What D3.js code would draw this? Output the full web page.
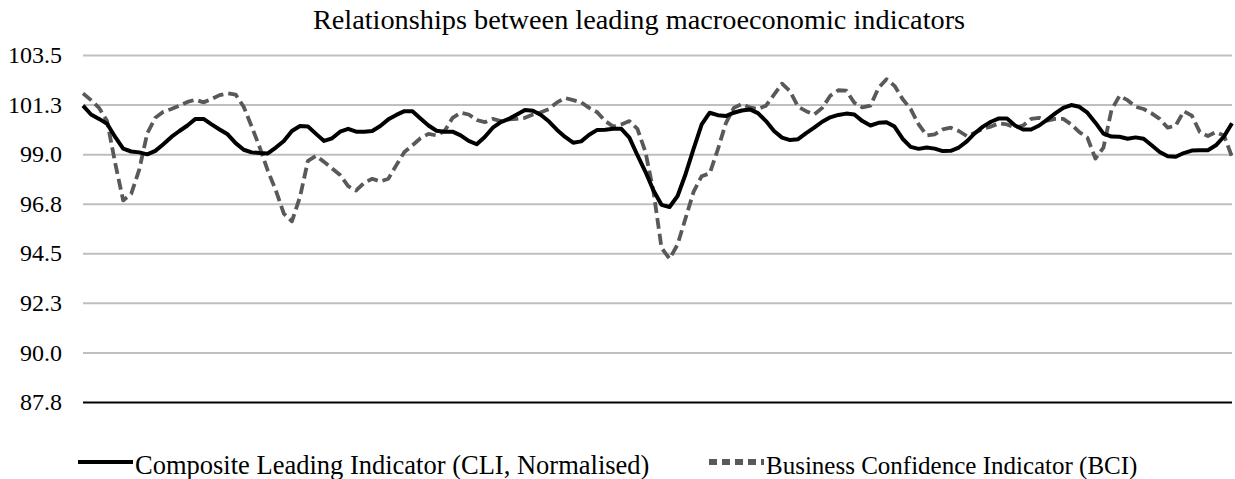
<!DOCTYPE html>
<html>
<head>
<meta charset="utf-8">
<script src="https://cdn.jsdelivr.net/npm/d3@7"></script>
<style>
  body { margin: 0; background: #fff; }
  svg { display: block; }
  svg text { font-family: "Liberation Serif", "Times New Roman", serif; }
</style>
</head>
<body>
<div id="chart"></div>
<script>
const width = 1235
const height = 479

const title = "Relationships between leading macroeconomic indicators"
const seriesNames = ["Composite Leading Indicator (CLI, Normalised)", "Business Confidence Indicator (BCI)"]
const tickValues = [87.75, 90, 92.25, 94.5, 96.75, 99, 101.25, 103.5]
const tickLabels = ["87.8", "90.0", "92.3", "94.5", "96.8", "99.0", "101.3", "103.5"]

// monthly readings, index only (no x labels on the chart)
const cli = [
  101.2, 100.8, 100.6, 100.38, 99.78, 99.25, 99.12, 99.08, 98.99, 99.15,
  99.45, 99.78, 100.05, 100.3, 100.6, 100.6, 100.35, 100.12, 99.9, 99.5,
  99.2, 99.08, 99.05, 99.03, 99.3, 99.6, 100.05, 100.28, 100.25, 99.92,
  99.6, 99.72, 100.02, 100.15, 100.02, 100.02, 100.05, 100.28, 100.58, 100.78,
  100.95, 100.95, 100.62, 100.3, 100.06, 100.02, 100.02, 99.85, 99.6, 99.45,
  99.78, 100.2, 100.45, 100.6, 100.8, 101.0, 100.97, 100.78, 100.48, 100.1,
  99.78, 99.52, 99.58, 99.88, 100.1, 100.11, 100.15, 100.15, 99.75, 98.95,
  98.2, 97.35, 96.7, 96.6, 97.1, 98.1, 99.25, 100.35, 100.88, 100.77,
  100.73, 100.88, 100.98, 101.03, 100.86, 100.5, 100.05, 99.75, 99.64, 99.68,
  99.95, 100.2, 100.47, 100.67, 100.78, 100.84, 100.8, 100.5, 100.3, 100.42,
  100.45, 100.25, 99.7, 99.33, 99.24, 99.3, 99.25, 99.14, 99.15, 99.3,
  99.58, 99.95, 100.25, 100.47, 100.62, 100.62, 100.3, 100.12, 100.12, 100.3,
  100.57, 100.85, 101.1, 101.23, 101.15, 100.88, 100.43, 99.93, 99.8, 99.79,
  99.7, 99.76, 99.7, 99.4, 99.1, 98.9, 98.88, 99.05, 99.16, 99.18,
  99.18, 99.4, 99.8, 100.4
]

const bci = [
  101.76, 101.45, 101.1, 100.5, 98.6, 96.9, 97.2, 98.3, 99.95, 100.65,
  100.92, 101.05, 101.2, 101.37, 101.47, 101.35, 101.5, 101.68, 101.76, 101.7,
  101.15, 100.25, 99.3, 98.25, 97.35, 96.3, 95.95, 97.05, 98.7, 98.92,
  98.65, 98.35, 98.05, 97.55, 97.35, 97.7, 97.88, 97.76, 97.88, 98.5,
  99.1, 99.4, 99.72, 99.92, 99.85, 100.05, 100.65, 100.88, 100.8, 100.55,
  100.45, 100.6, 100.5, 100.58, 100.6, 100.65, 100.8, 100.9, 101.05, 101.35,
  101.55, 101.45, 101.35, 101.1, 100.9, 100.5, 100.25, 100.35, 100.5, 100.15,
  99.1, 97.3, 94.75, 94.25, 94.9, 96.1, 97.3, 98.0, 98.13, 99.2,
  100.4, 101.1, 101.28, 101.12, 101.05, 101.2, 101.7, 102.2, 101.85, 101.15,
  100.95, 100.8, 101.1, 101.65, 101.9, 101.88, 101.33, 101.12, 101.2, 102.0,
  102.4, 102.1, 101.5, 101.05, 100.35, 99.85, 99.9, 100.12, 100.2, 100.05,
  99.82, 99.97, 100.15, 100.25, 100.4, 100.35, 100.2, 100.3, 100.6, 100.65,
  100.52, 100.6, 100.6, 100.35, 100.0, 99.75, 98.8, 99.3, 101.0, 101.65,
  101.45, 101.15, 101.05, 100.85, 100.6, 100.2, 100.3, 100.95, 100.75, 100.0,
  99.82, 100.0, 99.85, 98.88
]

const black = "#000000"
const dashGrey = "#595959"
const gridGrey = "#bfbfbf"

const margin = {top: 55, right: 3, bottom: 77, left: 83}

const svg = d3.select("#chart")
  .append("svg")
  .attr("width", width)
  .attr("height", height)

const x = d3.scaleLinear()
  .domain([0, cli.length - 1])
  .range([margin.left, width - margin.right])

const y = d3.scaleLinear()
  .domain([87.75, 103.5])
  .range([height - margin.bottom, margin.top])

// title
svg.append("text")
  .attr("x", 639)
  .attr("y", 29)
  .attr("text-anchor", "middle")
  .attr("font-size", 28.3)
  .attr("fill", black)
  .text(title)

// y axis: gridlines + labels, no domain line
const yAxis = d3.axisLeft(y)
  .tickValues(tickValues)
  .tickFormat((d, i) => tickLabels[i])
  .tickSize(-(width - margin.left - margin.right))
  .tickPadding(21)

const gy = svg.append("g")
  .attr("transform", `translate(${margin.left},0)`)
  .call(yAxis)
  .attr("font-family", null)

gy.select(".domain").remove()
gy.selectAll(".tick line")
  .attr("stroke", d => d === 87.75 ? black : gridGrey)
  .attr("stroke-width", 2)
gy.selectAll(".tick text")
  .attr("font-size", 24)
  .attr("fill", black)

// lines
const line = d3.line()
  .x((d, i) => x(i))
  .y(d => y(d))

svg.append("path")
  .datum(bci)
  .attr("fill", "none")
  .attr("stroke", dashGrey)
  .attr("stroke-width", 3.8)
  .attr("stroke-dasharray", "11,5")
  .attr("stroke-linejoin", "round")
  .attr("d", line)

svg.append("path")
  .datum(cli)
  .attr("fill", "none")
  .attr("stroke", black)
  .attr("stroke-width", 4)
  .attr("stroke-linejoin", "round")
  .attr("d", line)

// legend
const legend = [
  {name: seriesNames[0], x: 78, color: black, dash: null, w: 4, size: 26.5},
  {name: seriesNames[1], x: 709, color: dashGrey, dash: "8,5", w: 6, size: 25}
]
const ly = 462
legend.forEach(l => {
  svg.append("line")
    .attr("x1", l.x).attr("x2", l.x + 55)
    .attr("y1", ly).attr("y2", ly)
    .attr("stroke", l.color)
    .attr("stroke-width", l.w)
    .attr("stroke-dasharray", l.dash)
  svg.append("text")
    .attr("x", l.x + 57)
    .attr("y", ly + 12)
    .attr("font-size", l.size)
    .attr("fill", black)
    .text(l.name)
})
</script>
</body>
</html>
